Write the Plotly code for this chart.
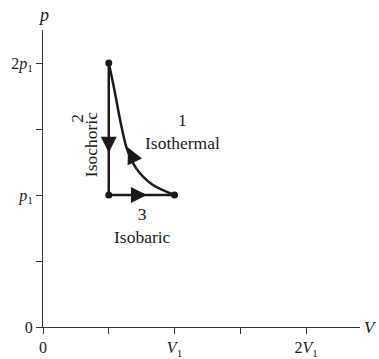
import plotly.graph_objects as go

# cycle corner points (V in units of V1, p in units of p1)
state_v = [0.5, 0.5, 1.0]
state_p = [2.0, 1.0, 1.0]

# isothermal curve (V1,p1) -> (V1/2, 2p1)
iso_v = [1.0, 0.83, 0.71, 0.635, 0.59, 0.54, 0.5]
iso_p = [1.0, 1.08, 1.20, 1.36, 1.55, 1.81, 2.0]

tick_vals = [0, 0.5, 1, 1.5, 2]
x_tick_text = ["0", "", "<i>V</i><sub>1</sub>", "", "2<i>V</i><sub>1</sub>"]
y_tick_text = ["0", "", "<i>p</i><sub>1</sub>", "", "2<i>p</i><sub>1</sub>"]

serif = "Liberation Serif"
ink = "#1a1a1a"

fig = go.Figure()

# isochoric + isobaric legs
fig.add_trace(go.Scatter(
    x=state_v, y=state_p,
    mode="lines", line=dict(color=ink, width=2.5),
    hoverinfo="skip"
))

# isothermal leg
fig.add_trace(go.Scatter(
    x=iso_v, y=iso_p, mode="lines",
    line=dict(color=ink, width=2.5, shape="spline", smoothing=0.8),
    hoverinfo="skip"
))

# state points
fig.add_trace(go.Scatter(
    x=state_v, y=state_p, mode="markers",
    marker=dict(color=ink, size=7), hoverinfo="skip"
))

# direction arrows (tip, tail)
arrows = [
    ((0.5, 1.32), (0.5, 1.45)),
    ((0.79, 1.0), (0.66, 1.0)),
    ((0.646, 1.36), (0.677, 1.295)),
]
for (tx, ty), (sx, sy) in arrows:
    fig.add_annotation(
        x=tx, y=ty, ax=sx, ay=sy, xref="x", yref="y", axref="x", ayref="y",
        showarrow=True, arrowhead=2, arrowsize=1.6, arrowwidth=2,
        arrowcolor=ink, text=""
    )

lab_font = dict(family=serif, size=17.5, color=ink)
fig.add_annotation(x=1.06, y=1.48, text="1<br>Isothermal", showarrow=False,
                   font=lab_font, xref="x", yref="y")
fig.add_annotation(x=0.76, y=0.77, text="3<br>Isobaric", showarrow=False,
                   font=lab_font, xref="x", yref="y")
fig.add_annotation(x=0.36, y=1.38, text="Isochoric", showarrow=False,
                   textangle=-90, font=lab_font, xref="x", yref="y")
fig.add_annotation(x=0.26, y=1.58, text="2", showarrow=False,
                   textangle=-90, font=lab_font, xref="x", yref="y")

# axis names
fig.add_annotation(x=0, y=1.0, xref="x", yref="paper", yanchor="bottom",
                   text="<i>p</i>", showarrow=False, yshift=3,
                   font=dict(family=serif, size=18, color=ink))
fig.add_annotation(x=1.0, y=0, xref="paper", yref="y", xanchor="left",
                   text="<i>V</i>", showarrow=False, xshift=2,
                   font=dict(family=serif, size=17, color=ink))

axis_common = dict(
    showgrid=False, zeroline=False, showline=True, linecolor="#333333",
    linewidth=1, ticks="outside", ticklen=6, tickcolor="#333333",
    tickvals=tick_vals, tickfont=dict(family=serif, size=16, color=ink),
    fixedrange=True, automargin=False,
)

fig.update_xaxes(range=[0, 2.41], ticktext=x_tick_text, **axis_common)
fig.update_yaxes(range=[0, 2.25], ticktext=y_tick_text, **axis_common)

fig.update_layout(
    width=379, height=359,
    margin=dict(l=43, r=19, t=30, b=32),
    plot_bgcolor="white", paper_bgcolor="white",
    showlegend=False,
)

# drop the browser's default body margin so the figure fills the window
fig.write_html(
    "out.html",
    config={"displayModeBar": False},
    post_script="document.body.style.margin='0px';",
)
